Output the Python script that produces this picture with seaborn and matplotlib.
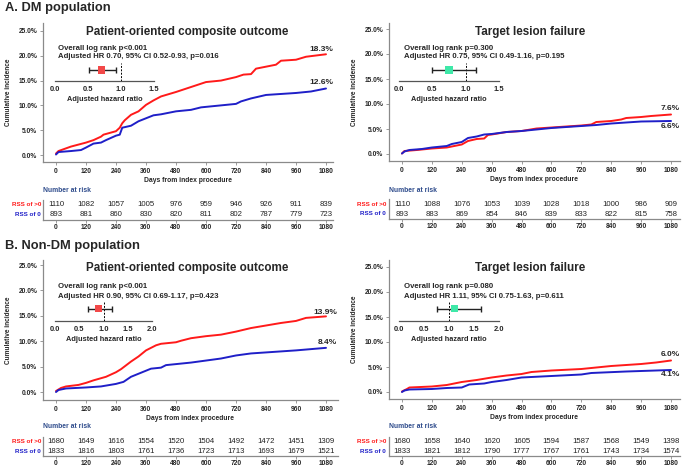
import numpy as np
import pandas as pd
import seaborn as sns
import matplotlib.pyplot as plt

sns.set_style("white")
plt.rcParams['font.family'] = ['Liberation Sans', 'DejaVu Sans']

RED = "#FF1A1A"
BLUE = "#1F1FC8"
NAVY = "#2F4C8C"
GRAY = "#8A8A8A"

W, H = 685, 466

risk_days = [0, 120, 240, 360, 480, 600, 720, 840, 960, 1080]

# DM - patient-oriented composite outcome
dm_poco_red_x = [0, 10, 60, 120, 150, 180, 190, 240, 255, 265, 275, 300, 330, 360, 390, 420, 480, 540, 600, 660, 720, 750, 780, 800, 840, 880, 900, 960, 1000, 1080]
dm_poco_red_y = [0.3, 0.8, 1.7, 2.5, 3.0, 3.7, 4.1, 4.8, 5.5, 6.4, 7.0, 8.1, 8.8, 10.1, 11.0, 11.8, 12.7, 13.7, 14.7, 15.0, 15.7, 16.2, 16.3, 17.4, 17.8, 18.2, 19.0, 19.2, 19.8, 20.3]
dm_poco_blue_x = [0, 10, 60, 100, 120, 150, 180, 200, 240, 255, 265, 300, 330, 360, 390, 420, 480, 540, 580, 600, 660, 720, 740, 780, 840, 900, 960, 1020, 1080]
dm_poco_blue_y = [0.1, 0.6, 0.8, 1.0, 1.5, 2.3, 2.5, 3.0, 3.9, 4.1, 5.5, 5.9, 6.8, 7.4, 8.0, 8.2, 8.8, 9.1, 9.6, 9.7, 10.0, 10.3, 10.8, 11.4, 12.1, 12.3, 12.5, 12.8, 13.4]

# DM - target lesion failure
dm_tlf_red_x = [0, 10, 60, 120, 180, 240, 265, 300, 330, 345, 360, 420, 480, 540, 600, 720, 760, 780, 840, 880, 900, 960, 1000, 1080]
dm_tlf_red_y = [0.1, 0.6, 0.8, 1.1, 1.3, 1.9, 2.6, 3.0, 3.1, 3.8, 3.9, 4.4, 4.6, 5.1, 5.3, 5.7, 5.9, 6.4, 6.6, 6.9, 7.2, 7.4, 7.6, 7.9]
dm_tlf_blue_x = [0, 10, 30, 80, 120, 180, 200, 240, 265, 300, 330, 360, 420, 480, 540, 600, 720, 780, 840, 960, 1080]
dm_tlf_blue_y = [0.1, 0.5, 0.8, 1.0, 1.3, 1.6, 2.0, 2.4, 3.2, 3.5, 3.9, 4.0, 4.4, 4.6, 4.9, 5.2, 5.6, 5.8, 6.1, 6.5, 6.6]

# Non-DM - patient-oriented composite outcome
ndm_poco_red_x = [0, 20, 40, 90, 120, 150, 200, 240, 260, 300, 330, 360, 400, 420, 480, 500, 540, 600, 660, 720, 780, 840, 900, 960, 1000, 1080]
ndm_poco_red_y = [0.2, 0.8, 1.1, 1.4, 1.8, 2.3, 3.0, 3.9, 4.5, 6.0, 7.0, 8.2, 9.2, 9.5, 9.8, 10.1, 10.6, 11.0, 11.3, 11.9, 12.6, 13.1, 13.6, 14.0, 14.6, 14.9]
ndm_poco_blue_x = [0, 10, 40, 120, 180, 240, 270, 300, 340, 380, 420, 440, 480, 540, 600, 660, 720, 780, 840, 900, 960, 1080]
ndm_poco_blue_y = [0.0, 0.4, 0.7, 0.9, 1.1, 1.6, 2.0, 3.0, 3.8, 4.6, 4.8, 5.3, 5.5, 5.8, 6.2, 6.6, 7.2, 7.6, 7.8, 8.0, 8.2, 8.7]

# Non-DM - target lesion failure
ndm_tlf_red_x = [0, 20, 30, 120, 180, 220, 240, 300, 360, 420, 480, 520, 600, 720, 780, 840, 960, 1020, 1080]
ndm_tlf_red_y = [0.1, 0.6, 0.9, 1.1, 1.4, 1.8, 2.0, 2.4, 2.9, 3.3, 3.6, 4.0, 4.3, 4.6, 4.9, 5.2, 5.6, 5.9, 6.3]
ndm_tlf_blue_x = [0, 10, 30, 120, 180, 240, 270, 330, 360, 420, 480, 600, 720, 760, 900, 1080]
ndm_tlf_blue_y = [0.0, 0.3, 0.5, 0.6, 0.8, 0.9, 1.5, 1.7, 2.0, 2.4, 2.9, 3.2, 3.5, 3.8, 4.1, 4.4]

# numbers at risk
dm_poco_risk_red = [1110, 1082, 1057, 1005, 976, 959, 946, 926, 911, 839]
dm_poco_risk_blue = [893, 881, 860, 830, 820, 811, 802, 787, 779, 723]
dm_tlf_risk_red = [1110, 1088, 1076, 1053, 1039, 1028, 1018, 1000, 986, 909]
dm_tlf_risk_blue = [893, 883, 869, 854, 846, 839, 833, 822, 815, 758]
ndm_poco_risk_red = [1680, 1649, 1616, 1554, 1520, 1504, 1492, 1472, 1451, 1309]
ndm_poco_risk_blue = [1833, 1816, 1803, 1761, 1736, 1723, 1713, 1693, 1679, 1521]
ndm_tlf_risk_red = [1680, 1658, 1640, 1620, 1605, 1594, 1587, 1568, 1549, 1398]
ndm_tlf_risk_blue = [1833, 1821, 1812, 1790, 1777, 1767, 1761, 1743, 1734, 1574]

# hazard ratios: (hr, lo, hi)
hr_dm_poco = (0.70, 0.52, 0.93)
hr_dm_tlf = (0.75, 0.49, 1.16)
hr_ndm_poco = (0.90, 0.69, 1.17)
hr_ndm_tlf = (1.11, 0.75, 1.63)

end_labels = [("18.3%", "12.6%"), ("7.6%", "6.6%"), ("13.9%", "8.4%"), ("6.0%", "4.1%")]


fig = plt.figure(figsize=(W / 100, H / 100), dpi=100)


def px_axes(x0, y0, x1, y1):
    return fig.add_axes([x0 / W, 1 - y1 / H, (x1 - x0) / W, (y1 - y0) / H])


def fy(y):
    return 1 - y / H


def km_panel(box, ylim, xlim, red, blue, labels, label_y, label_x, title, title_x, title_y):
    ax = px_axes(*box)
    df = pd.concat([
        pd.DataFrame({"day": red[0], "inc": red[1], "grp": "RSS of >0"}),
        pd.DataFrame({"day": blue[0], "inc": blue[1], "grp": "RSS of 0"}),
    ])
    sns.lineplot(data=df, x="day", y="inc", hue="grp", palette=[RED, BLUE],
                 estimator=None, linewidth=1.4, legend=False, ax=ax)
    ax.set_xlim(*xlim)
    ax.set_ylim(*ylim)
    ax.set_xticks(risk_days)
    ax.set_yticks([0, 5, 10, 15, 20, 25])
    ax.set_yticklabels([f"{v:.1f}%" for v in [0, 5, 10, 15, 20, 25]])
    for s in ["top", "right"]:
        ax.spines[s].set_visible(False)
    for s in ["left", "bottom"]:
        ax.spines[s].set_color(GRAY)
        ax.spines[s].set_linewidth(0.9)
    ax.tick_params(axis="both", labelsize=4.8, length=2, width=0.6, color=GRAY, pad=2, direction="out")
    ax.tick_params(left=True, bottom=True)
    for t in ax.get_xticklabels() + ax.get_yticklabels():
        t.set_fontweight("bold")
    ax.set_xlabel("Days from index procedure", fontsize=4.9, fontweight="bold", labelpad=2)
    ax.set_ylabel("Cumulative incidence", fontsize=4.7, fontweight="bold", labelpad=5)
    ax.text(label_x, label_y[0], labels[0], ha="right", va="center", fontsize=6, fontweight="bold")
    ax.text(label_x, label_y[1], labels[1], ha="right", va="center", fontsize=6, fontweight="bold")
    fig.text(title_x / W, fy(title_y), title, ha="center", va="center", fontsize=8.4, fontweight="bold")
    return ax


def hr_inset(box, xmax, hr, color, text_xy, lines):
    ax = px_axes(*box)
    ax.set_xlim(0, xmax)
    ax.set_ylim(0, 1)
    ax.patch.set_alpha(0)
    for s in ["top", "right", "left"]:
        ax.spines[s].set_visible(False)
    ax.spines["bottom"].set_color("#555555")
    ax.spines["bottom"].set_linewidth(0.9)
    ax.set_yticks([])
    ticks = np.arange(0, xmax + 0.01, 0.5)
    ax.set_xticks(ticks)
    ax.set_xticklabels([f"{t:.1f}" for t in ticks], fontsize=5.4, fontweight="bold")
    ax.tick_params(axis="x", length=2, width=0.6, pad=1.5, color="#555555")
    ax.axvline(1.0, ymin=0, ymax=0.95, color="black", linestyle=(0, (2, 1.5)), linewidth=0.7)
    ax.errorbar([hr[0]], [0.58], xerr=[[hr[0] - hr[1]], [hr[2] - hr[0]]], fmt="none",
                ecolor="#222222", elinewidth=1.0, capsize=2.5, capthick=1.0)
    sns.scatterplot(x=[hr[0]], y=[0.58], marker="s", s=28, color=color, edgecolor="none", ax=ax, zorder=3)
    ax.set_xlabel("Adjusted hazard ratio", fontsize=5.3, fontweight="bold", labelpad=2.5)
    fig.text(text_xy[0] / W, fy(text_xy[1]), lines[0], ha="left", va="center", fontsize=5.6, fontweight="bold")
    fig.text(text_xy[0] / W, fy(text_xy[1] + 9), lines[1], ha="left", va="center", fontsize=5.6, fontweight="bold")


def risk_table(box, xlim, red, blue, label_x, nar_y):
    ax = px_axes(*box)
    ax.set_xlim(*xlim)
    ax.set_ylim(0, 2)
    for s in ["top", "right"]:
        ax.spines[s].set_visible(False)
    for s in ["left", "bottom"]:
        ax.spines[s].set_color(GRAY)
        ax.spines[s].set_linewidth(0.9)
    ax.set_xticks(risk_days)
    ax.set_yticks([])
    ax.tick_params(axis="x", labelsize=4.8, length=2, width=0.6, color=GRAY, pad=1.2)
    ax.tick_params(bottom=True)
    for t in ax.get_xticklabels():
        t.set_fontweight("bold")
    for d, r, b in zip(risk_days, red, blue):
        ax.text(d, 1.5, str(r), ha="center", va="center", fontsize=5.6, color="#222222")
        ax.text(d, 0.5, str(b), ha="center", va="center", fontsize=5.6, color="#222222")
    h = box[3] - box[1]
    fig.text(label_x / W, fy(box[1] + h * 0.25), "RSS of >0", ha="right", va="center", fontsize=4.5,
             fontweight="bold", color=RED)
    fig.text(label_x / W, fy(box[1] + h * 0.75), "RSS of 0", ha="right", va="center", fontsize=4.5,
             fontweight="bold", color=BLUE)
    fig.text((box[0]) / W, fy(nar_y), "Number at risk", ha="left", va="center", fontsize=4.9,
             fontweight="bold", color=NAVY)


fig.text(5 / W, fy(11.5), "A. DM population", ha="left", va="baseline", fontsize=9.3, fontweight="bold")
fig.text(5 / W, fy(249), "B. Non-DM population", ha="left", va="baseline", fontsize=9.3, fontweight="bold")

# top-left
km_panel((43, 23, 333, 162), (-1.41, 26.6), (-52, 1108), (dm_poco_red_x, dm_poco_red_y),
         (dm_poco_blue_x, dm_poco_blue_y), end_labels[0], (21.2, 14.7), 1108,
         "Patient-oriented composite outcome", 187, 32)
hr_inset((55, 62, 154, 81), 1.5, hr_dm_poco, "#F24848", (58, 48),
         ["Overall log rank p<0.001", "Adjusted HR 0.70, 95% CI 0.52-0.93, p=0.016"])
risk_table((43, 200, 333, 220), (-52, 1108), dm_poco_risk_red, dm_poco_risk_blue, 41, 191)

# top-right
km_panel((389, 23, 680, 161), (-1.4, 26.2), (-52, 1116), (dm_tlf_red_x, dm_tlf_red_y),
         (dm_tlf_blue_x, dm_tlf_blue_y), end_labels[1], (9.0, 5.4), 1116,
         "Target lesion failure", 530, 32)
hr_inset((399, 62, 499, 81), 1.5, hr_dm_tlf, "#3EE8A8", (404, 48),
         ["Overall log rank p=0.300", "Adjusted HR 0.75, 95% CI 0.49-1.16, p=0.195"])
risk_table((389, 199, 680, 219), (-52, 1116), dm_tlf_risk_red, dm_tlf_risk_blue, 386, 190)

# bottom-left
km_panel((43, 260, 338, 400), (-1.57, 26.0), (-52, 1128), (ndm_poco_red_x, ndm_poco_red_y),
         (ndm_poco_blue_x, ndm_poco_blue_y), end_labels[2], (15.7, 9.8), 1124,
         "Patient-oriented composite outcome", 187, 268)
hr_inset((55, 300, 152, 321), 2.0, hr_ndm_poco, "#F24848", (58, 287),
         ["Overall log rank p<0.001", "Adjusted HR 0.90, 95% CI 0.69-1.17, p=0.423"])
risk_table((43, 437, 338, 456), (-52, 1128), ndm_poco_risk_red, ndm_poco_risk_blue, 41, 427)

# bottom-right
km_panel((389, 260, 680, 399), (-1.4, 26.4), (-52, 1116), (ndm_tlf_red_x, ndm_tlf_red_y),
         (ndm_tlf_blue_x, ndm_tlf_blue_y), end_labels[3], (7.4, 3.4), 1116,
         "Target lesion failure", 530, 268)
hr_inset((399, 300, 499, 321), 2.0, hr_ndm_tlf, "#3EE8A8", (404, 287),
         ["Overall log rank p=0.080", "Adjusted HR 1.11, 95% CI 0.75-1.63, p=0.611"])
risk_table((389, 437, 680, 456), (-52, 1116), ndm_tlf_risk_red, ndm_tlf_risk_blue, 386, 427)

fig.savefig("out.png", dpi=100)
